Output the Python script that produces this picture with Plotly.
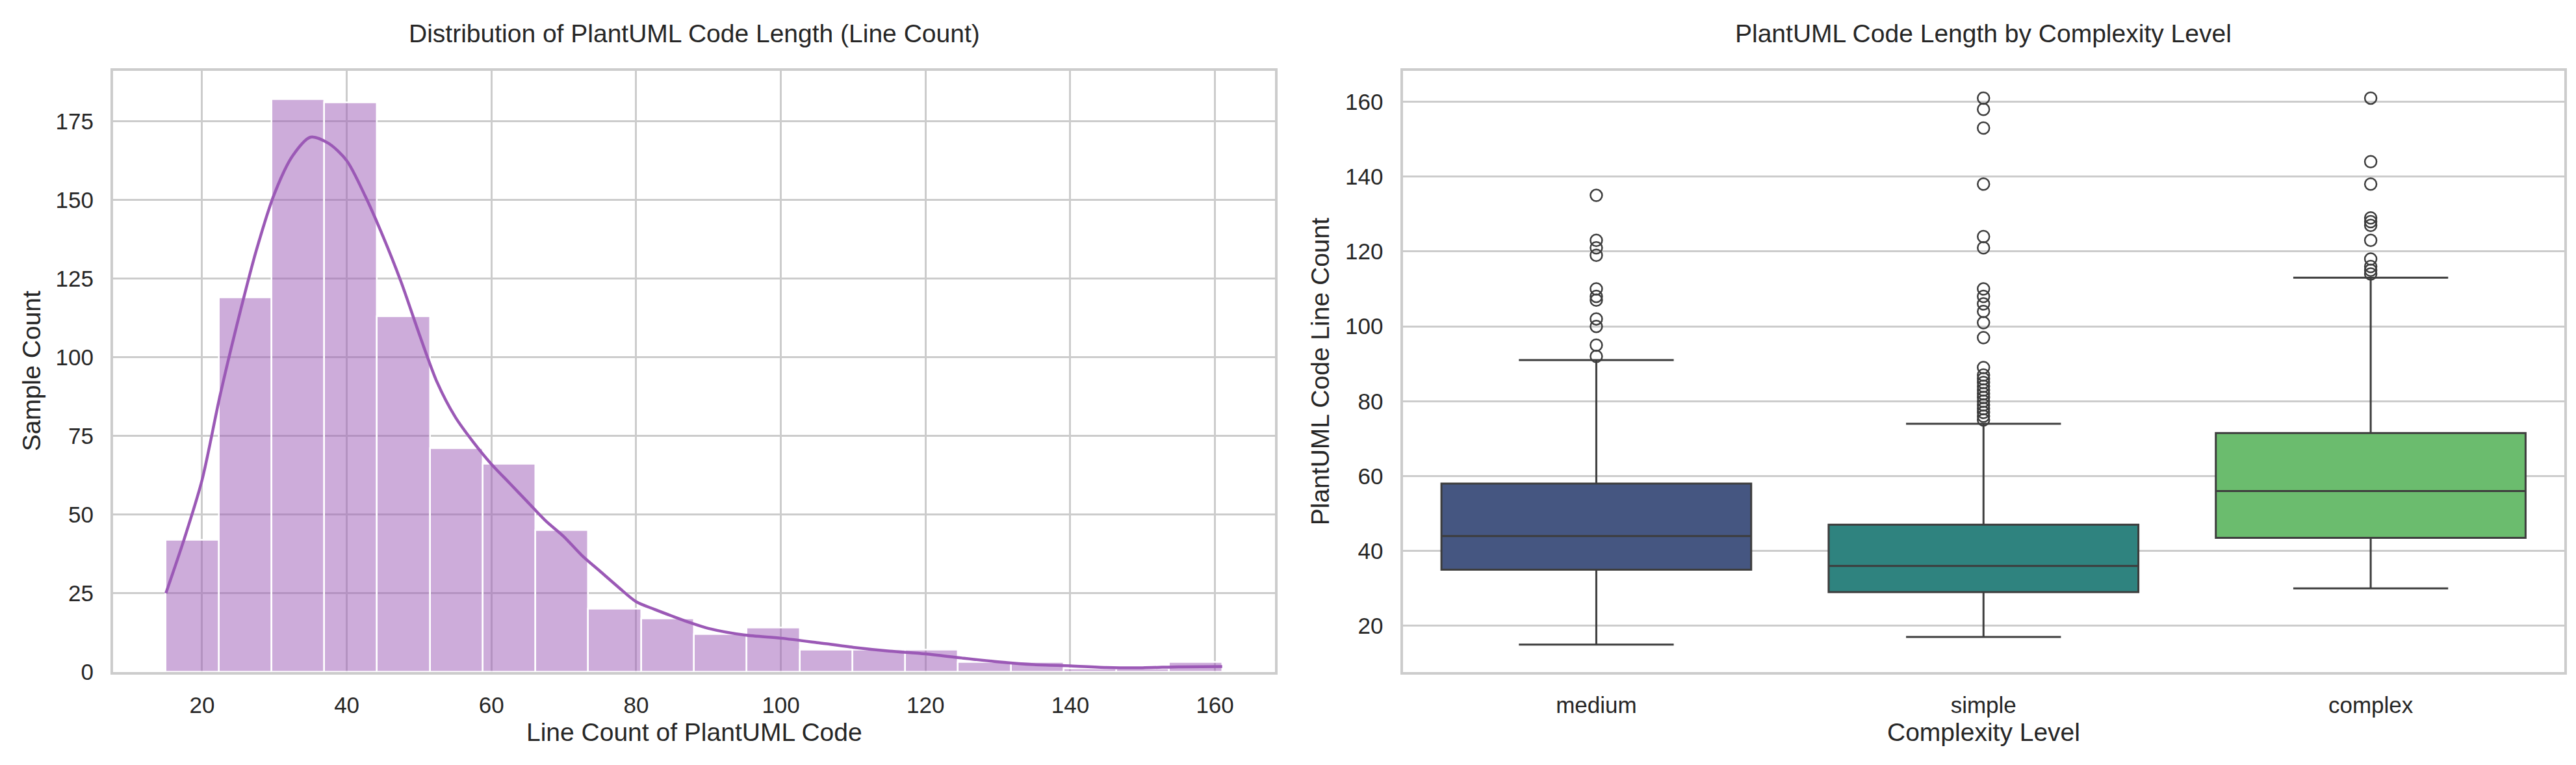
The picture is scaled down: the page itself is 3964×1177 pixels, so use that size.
import numpy as np
import plotly.graph_objects as go

# ---- left: histogram of line counts (20 bins from 15 to 161) ----
bin_min, bin_max = 15, 161
bin_counts = [42, 119, 182, 181, 113, 71, 66, 45, 20, 17,
              12, 14, 7, 7, 7, 3, 3, 1, 1, 3]

# kde curve (scaled to counts)
kde_x = [15, 17.5, 20, 22.5, 25, 27.5, 30, 32.5, 35, 37.5, 40, 42.5, 45, 47.5,
         50, 52.5, 55, 57.5, 60, 62.5, 65, 67.5, 70, 72.5, 75, 77.5, 80, 82.5,
         85, 87.5, 90, 95, 100, 105, 110, 115, 120, 125, 130, 135, 140, 145,
         150, 155, 161]
kde_y = [25, 42, 61, 88, 112, 134, 152, 164, 170, 168, 162.5, 151.5, 138.5, 124,
         107.5, 92, 81, 73, 66, 60, 54, 48, 43, 37, 32, 27, 22.3, 19.9,
         17.7, 15.6, 13.8, 11.7, 10.7, 9.3, 7.8, 6.6, 5.7, 4.4, 3.2, 2.3, 1.9, 1.4,
         1.3, 1.6, 1.7]

# ---- right: box plot by complexity ----
levels = ["medium", "simple", "complex"]
q1 = [35, 29, 43.5]
median = [44, 36, 56]
q3 = [58, 47, 71.5]
lower_whisker = [15, 17, 30]
upper_whisker = [91, 74, 113]
outliers = {
    "medium": [135, 123, 121, 119, 110, 108, 107, 102, 100, 95, 92],
    "simple": [161, 158, 153, 138, 124, 121, 110, 108, 106, 104, 101, 97,
               89, 87, 86, 85, 84, 83, 82, 81, 80, 79, 78, 77, 76, 75],
    "complex": [161, 144, 138, 129, 128, 127, 123, 118, 116, 115, 114],
}
box_colors = ["#455681", "#2f837f", "#6bbc6e"]

edge = "#3d3d3d"
text_col = "#262626"
grid_col = "#cccccc"
font_fam = "Liberation Sans, Arial, sans-serif"

edges = np.linspace(bin_min, bin_max, len(bin_counts) + 1)
centers = (edges[:-1] + edges[1:]) / 2
bw = edges[1] - edges[0]

fig = go.Figure()

fig.add_trace(go.Bar(
    x=centers, y=bin_counts, width=bw,
    marker=dict(color="rgba(155,89,182,0.5)", line=dict(color="white", width=2.5)),
    xaxis="x", yaxis="y", showlegend=False))
fig.add_trace(go.Scatter(
    x=kde_x, y=kde_y, mode="lines",
    line=dict(color="#9b59b6", width=4.5, shape="spline", smoothing=0.8),
    xaxis="x", yaxis="y", showlegend=False))

for i, lvl in enumerate(levels):
    fig.add_trace(go.Box(
        x=[lvl], q1=[q1[i]], median=[median[i]], q3=[q3[i]],
        lowerfence=[lower_whisker[i]], upperfence=[upper_whisker[i]],
        fillcolor=box_colors[i], line=dict(color=edge, width=3),
        width=0.8, whiskerwidth=0.5, boxpoints=False,
        xaxis="x2", yaxis="y2", showlegend=False))
    pts = outliers[lvl]
    fig.add_trace(go.Scatter(
        x=[lvl] * len(pts), y=pts, mode="markers",
        marker=dict(symbol="circle-open", size=18, color=edge, line=dict(width=2.5)),
        xaxis="x2", yaxis="y2", showlegend=False))

W, H = 3964, 1177
top, bottom = 102.5, 1042.5
yd = [(H - bottom) / H, (H - top) / H]

axis_common = dict(
    showline=True, mirror=True, linecolor=grid_col, linewidth=4,
    gridcolor=grid_col, gridwidth=2.6, zeroline=False,
    ticks="", tickfont=dict(size=35, color=text_col, family=font_fam),
)

fig.update_layout(
    width=W, height=H,
    margin=dict(l=0, r=0, t=0, b=0),
    paper_bgcolor="white", plot_bgcolor="white",
    bargap=0, boxmode="overlay",
    font=dict(family=font_fam, color=text_col),
    xaxis=dict(domain=[166 / W, 1954 / W], range=[7.7, 168.3],
               tickvals=[20, 40, 60, 80, 100, 120, 140, 160],
               showgrid=True, anchor="y", ticklabelstandoff=17, **axis_common),
    yaxis=dict(domain=yd, range=[0, 191.1],
               tickvals=[0, 25, 50, 75, 100, 125, 150, 175],
               showgrid=True, anchor="x", ticklabelstandoff=19, **axis_common),
    xaxis2=dict(domain=[2150.5 / W, 3938 / W], range=[-0.5, 2.5],
                type="category", categoryorder="array", categoryarray=levels,
                showgrid=False, anchor="y2", ticklabelstandoff=17, **axis_common),
    yaxis2=dict(domain=yd, range=[7.7, 168.3],
                tickvals=[20, 40, 60, 80, 100, 120, 140, 160],
                showgrid=True, anchor="x2", ticklabelstandoff=19, **axis_common),
)

ann_font = dict(size=39, color=text_col, family=font_fam)
title_y = 1 - 44 / H
label_y = 1 - 1137 / H
mid_y = (yd[0] + yd[1]) / 2
annots = [
    (1060 / W, title_y, "Distribution of PlantUML Code Length (Line Count)", 0),
    (3044 / W, title_y, "PlantUML Code Length by Complexity Level", 0),
    (1060 / W, label_y, "Line Count of PlantUML Code", 0),
    (3044 / W, label_y, "Complexity Level", 0),
    (40 / W, mid_y, "Sample Count", -90),
    (2023 / W, mid_y, "PlantUML Code Line Count", -90),
]
for x, y, txt, ang in annots:
    fig.add_annotation(x=x, y=y, xref="paper", yref="paper", text=txt,
                       showarrow=False, textangle=ang, font=ann_font,
                       xanchor="center", yanchor="middle")

fig.write_html("out.html")
